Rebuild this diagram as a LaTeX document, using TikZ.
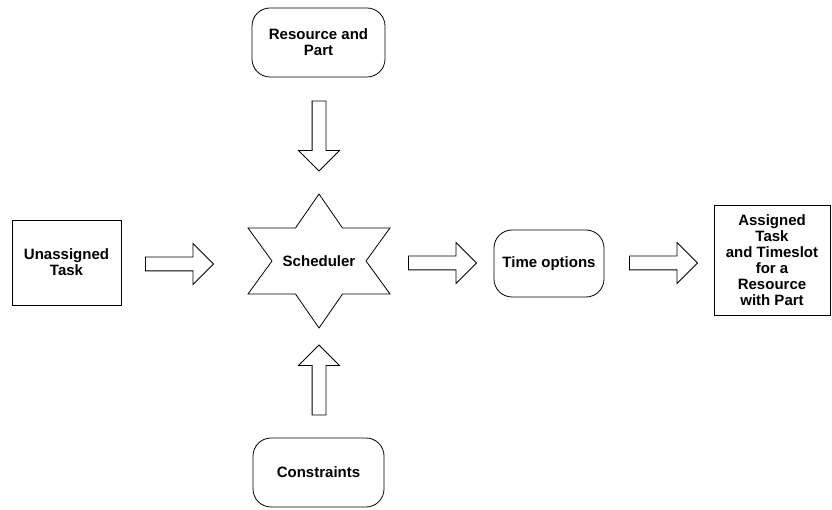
\documentclass[tikz,border=0pt]{standalone}
\usepackage{fontspec}
\setmainfont{Liberation Sans}
\usetikzlibrary{shapes.arrows}

\begin{document}
\begin{tikzpicture}[x=1pt,y=-1pt,font=\fontsize{15}{16}\selectfont\bfseries,line width=0.8pt,
  roundbox/.style={draw,rounded corners=18pt,align=center,inner sep=2pt},
  squarebox/.style={draw,align=center,inner sep=2pt},
  blockarrow/.style={draw,single arrow,single arrow head extend=13.5pt,inner sep=6.5pt,minimum height=68pt}]
\useasboundingbox (0,0) rectangle (832,510);
% boxes
\node[roundbox,minimum width=133pt,minimum height=69pt] (res) at (318.5,42.5) {Resource and\\Part};
\node[squarebox,minimum width=109pt,minimum height=85pt] (task) at (66.5,262.5) {Unassigned\\Task};
\node (sched) at (319,261) {Scheduler};
\draw[shift={(sched.center)}] (0,-67) -- (23.5,-33) -- (71,-33) -- (47,0) -- (71,33) -- (23.5,33)
  -- (0,67) -- (-23.5,33) -- (-71,33) -- (-47,0) -- (-71,-33) -- (-23.5,-33) -- cycle;
\node[roundbox,minimum width=110pt,minimum height=67pt] (time) at (549,263.5) {Time options};
\node[squarebox,minimum width=116pt,minimum height=110pt] (done) at (772,260) {Assigned\\Task\\and Timeslot\\for a\\Resource\\with Part};
\node[roundbox,minimum width=131pt,minimum height=69pt] (cons) at (318.5,472.5) {Constraints};
% block arrows
\node[blockarrow] (a1) at (176,264) {};
\node[blockarrow] (a2) at (439,263) {};
\node[blockarrow] (a3) at (660,263) {};
\node[blockarrow,minimum height=70pt,shape border rotate=270] (a4) at (319,132.5) {};
\node[blockarrow,minimum height=70pt,shape border rotate=90] (a5) at (319,383.5) {};
\end{tikzpicture}
\end{document}
